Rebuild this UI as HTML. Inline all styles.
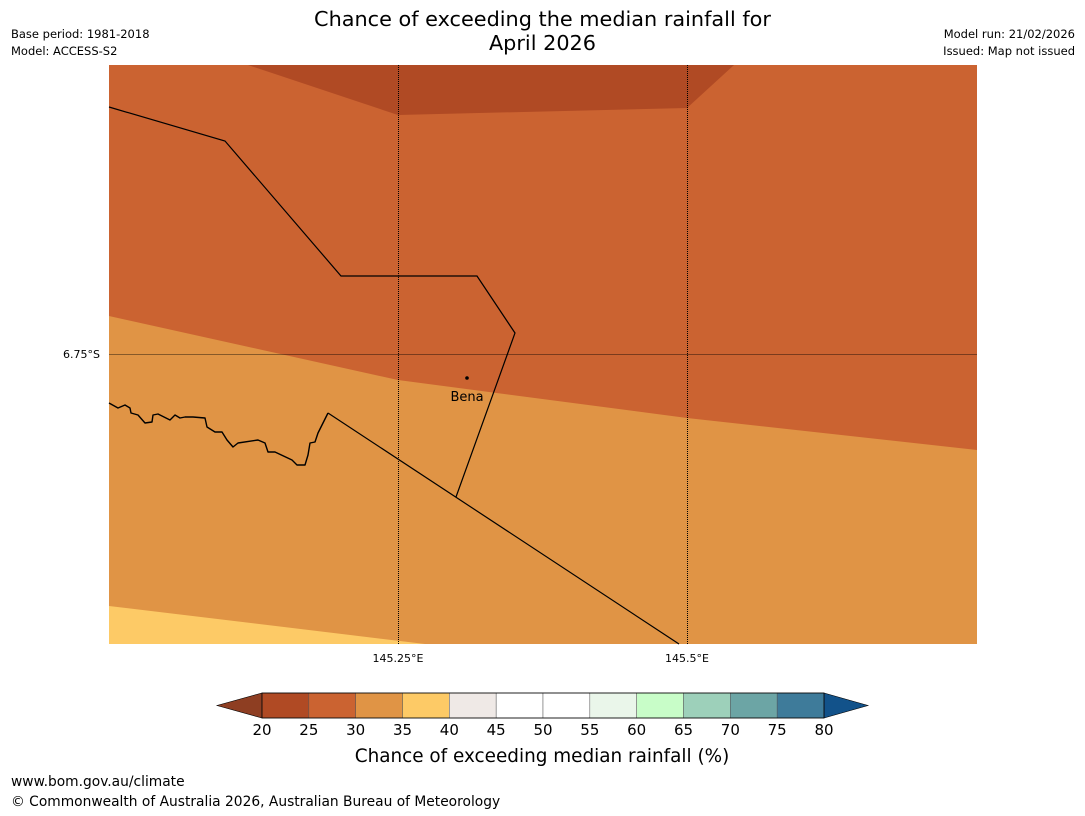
<!DOCTYPE html>
<html><head><meta charset="utf-8"><style>
body{margin:0;background:#fff;width:1085px;height:816px;overflow:hidden;font-family:"DejaVu Sans","Liberation Sans",sans-serif;position:relative}
.t{position:absolute;white-space:nowrap;color:#000}
</style></head><body>
<div class="t" style="left:0;width:1085px;text-align:center;top:7px;font-size:20.8px;line-height:24px">Chance of exceeding the median rainfall for<br>April 2026</div>
<div class="t" style="left:11px;top:27px;font-size:11.5px">Base period: 1981-2018</div>
<div class="t" style="left:11px;top:44px;font-size:11.5px">Model: ACCESS-S2</div>
<div class="t" style="right:10px;top:27px;font-size:11.5px">Model run: 21/02/2026</div>
<div class="t" style="right:10px;top:44px;font-size:11.5px">Issued: Map not issued</div>
<svg width="1085" height="816" style="position:absolute;left:0;top:0">
<g>
<rect x="109" y="65" width="868" height="579" fill="#cb6331"/>
<polygon points="248,65 398,115 687,108 734,65" fill="#b04a24"/>
<polygon points="109,316 398,380 687,418 977,450 977,644 109,644" fill="#e09445"/>
<polygon points="109,606 425,644 109,644" fill="#fdca66"/>
<polyline points="109,107 225,141 341,276 477,276 515,333 456,497" fill="none" stroke="#000" stroke-width="1.2"/>
<line x1="328" y1="413" x2="679" y2="644" stroke="#000" stroke-width="1.2"/>
<polyline points="109,403 118,408 125,405 130,408 131,413 138,415 145,423 152,422 153,415 158,414 170,420 175,415 180,418 185,417 193,417 205,418 207,427 215,432 222,432 227,440 233,447 238,443 258,440 265,443 268,452 275,452 292,460 297,465 305,465 308,455 310,443 315,442 318,433 328,413" fill="none" stroke="#000" stroke-width="1.4" stroke-linejoin="round"/>
<line x1="398.5" y1="65" x2="398.5" y2="644" stroke="#000" stroke-width="1" stroke-dasharray="1,1"/>
<line x1="687.5" y1="65" x2="687.5" y2="644" stroke="#000" stroke-width="1" stroke-dasharray="1,1"/>
<line x1="109" y1="354.5" x2="977" y2="354.5" stroke="#000" stroke-width="0.6" stroke-opacity="0.8"/>
<circle cx="467" cy="378" r="1.8" fill="#000"/>
<text x="467" y="401" font-size="13" text-anchor="middle" font-family="DejaVu Sans, sans-serif">Bena</text>
</g>
<text x="100" y="358" font-size="11" text-anchor="end" font-family="DejaVu Sans, sans-serif">6.75°S</text>
<text x="398" y="662" font-size="11" text-anchor="middle" font-family="DejaVu Sans, sans-serif">145.25°E</text>
<text x="687" y="662" font-size="11" text-anchor="middle" font-family="DejaVu Sans, sans-serif">145.5°E</text>
<g id="cbar"></g>
<text x="542" y="762" font-size="18.4" text-anchor="middle" font-family="DejaVu Sans, sans-serif">Chance of exceeding median rainfall (%)</text>
</svg>
<div class="t" style="left:11px;top:774px;font-size:13.8px">www.bom.gov.au/climate</div>
<div class="t" style="left:11px;top:794px;font-size:13.8px">© Commonwealth of Australia 2026, Australian Bureau of Meteorology</div>
<script>
const ticks=[20,25,30,35,40,45,50,55,60,65,70,75,80];
const colors=["#b04a24","#cb6331","#e09445","#fdca66","#efe9e6","#ffffff","#ffffff","#eaf6ea","#c8fdc8","#9dd0ba","#6ca5a5","#3e7b9a"];
const NS="http://www.w3.org/2000/svg";
const g=document.getElementById('cbar');
const x0=262,x1=824,y0=693,y1=718;
const sx=v=>x0+(v-ticks[0])/(ticks[ticks.length-1]-ticks[0])*(x1-x0);
function mk(tag,a){const e=document.createElementNS(NS,tag);for(const k in a)e.setAttribute(k,a[k]);g.appendChild(e);return e;}
let l=mk('polygon',{points:`${x0},${y0} ${x0},${y1} 217,${(y0+y1)/2}`,fill:'#8e3e22',stroke:'#000','stroke-width':0.6});


let r=mk('polygon',{points:`${x1},${y0} ${x1},${y1} 868,${(y0+y1)/2}`,fill:'#12528a',stroke:'#000','stroke-width':0.6});


colors.forEach((c,i)=>{
 const a=sx(ticks[i]),b=sx(ticks[i+1]);
 const e=mk('rect',{x:a,y:y0,width:b-a,height:y1-y0,fill:c,stroke:'#555','stroke-width':0.5});
 
 
});
mk('rect',{x:x0,y:y0,width:x1-x0,height:y1-y0,fill:'none',stroke:'#000','stroke-width':0.8});
ticks.forEach(t=>{
 const e=mk('text',{x:sx(t),y:735,'font-size':15,'text-anchor':'middle','font-family':'DejaVu Sans, sans-serif'});
 e.textContent=t;
 
 
});
</script>
</body></html>
